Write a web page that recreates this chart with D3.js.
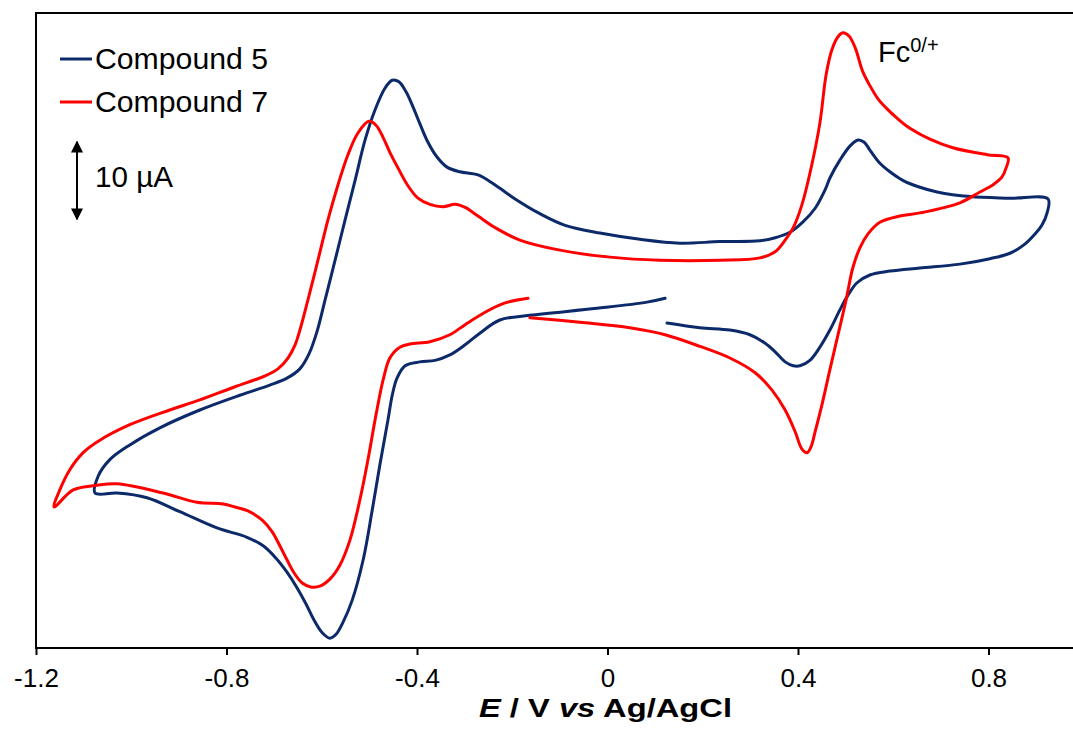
<!DOCTYPE html>
<html><head><meta charset="utf-8">
<script src="https://cdn.jsdelivr.net/npm/d3@7"></script>
<style>html,body{margin:0;padding:0;background:#fff;}svg{display:block;font-family:"Liberation Sans",Arial,sans-serif;}</style>
</head><body><svg id="c" width="1073" height="731"></svg>
<script>
// ---- data (E in V vs Ag/AgCl, I in µA, scan order) ----
const seriesNames = ["Compound 5", "Compound 7"];
const seriesColors = ["#0c2a6a", "#ff0000"];
const tickValues = [-1.2, -0.8, -0.4, 0, 0.4, 0.8];
const tickLabels = ["-1.2", "-0.8", "-0.4", "0", "0.4", "0.8"];

const E5 = [0.121,0.083,-0.022,-0.163,-0.226,-0.268,-0.299,-0.331,-0.362,-0.394,-0.425,-0.442,-0.452,-0.461,-0.478,-0.494,-0.513,-0.536,-0.555,-0.570,
  -0.583,-0.599,-0.616,-0.633,-0.652,-0.673,-0.696,-0.723,-0.757,-0.820,-0.898,-0.967,-1.030,-1.076,-1.070,-1.045,-1.003,-0.940,-0.856,-0.772,
  -0.709,-0.673,-0.646,-0.627,-0.610,-0.593,-0.572,-0.551,-0.530,-0.509,-0.488,-0.467,-0.452,-0.438,-0.423,-0.408,-0.394,-0.377,-0.358,-0.337,
  -0.310,-0.272,-0.236,-0.194,-0.142,-0.089,-0.016,0.068,0.152,0.236,0.320,0.352,0.383,0.410,0.436,0.457,0.467,
  0.488,0.509,0.526,0.539,0.551,0.572,0.593,0.620,0.656,0.692,0.761,0.845,0.925,0.923,0.912,0.898,0.877,0.845,0.803,0.740,
  0.656,0.593,0.551,0.524,0.505,0.488,0.467,0.446,0.425,0.404,0.390,0.373,0.352,0.331,0.299,0.257,0.194,0.125];
const I5 = [2.8,2.3,1.5,0.6,0.0,-1.7,-3.2,-4.5,-5.2,-5.4,-5.9,-7.5,-9.7,-12.9,-18.7,-24.5,-30.9,-36.1,-38.9,-40.5,
  -41.0,-40.3,-38.7,-36.6,-34.5,-32.5,-30.7,-29.1,-28.0,-26.8,-24.7,-22.9,-22.3,-22.3,-20.2,-18.0,-16.1,-13.9,-11.6,-9.7,
  -8.4,-7.5,-6.3,-4.4,-1.5,2.6,7.7,12.9,18.0,23.2,27.1,29.9,30.9,30.7,29.4,27.4,25.3,22.9,21.0,19.7,
  19.1,18.7,17.4,15.6,13.7,12.2,11.2,10.4,9.9,10.1,10.2,10.6,11.3,12.6,14.4,16.8,18.3,
  20.6,22.4,23.2,22.9,21.9,20.2,19.1,18.0,17.1,16.5,15.9,15.7,15.6,13.8,12.2,11.1,9.8,8.6,7.9,7.2,
  6.7,6.3,5.8,4.8,3.2,1.3,-1.3,-3.5,-5.2,-5.9,-5.9,-5.4,-4.1,-3.0,-1.9,-1.3,-1.0,-0.4];

const E7 = [-0.167,-0.215,-0.257,-0.299,-0.331,-0.373,-0.415,-0.436,-0.457,-0.471,-0.486,-0.503,-0.520,-0.541,-0.562,-0.583,-0.604,-0.623,-0.641,-0.658,
  -0.673,-0.688,-0.704,-0.725,-0.755,-0.782,-0.807,-0.862,-0.933,-1.030,-1.072,-1.122,-1.162,-1.150,-1.129,-1.101,-1.066,-1.003,-0.919,-0.856,
  -0.782,-0.719,-0.692,-0.671,-0.656,-0.644,-0.629,-0.608,-0.587,-0.566,-0.545,-0.524,-0.501,-0.486,-0.471,-0.457,-0.440,-0.419,-0.398,-0.373,
  -0.345,-0.320,-0.299,-0.272,-0.236,-0.184,-0.100,0.005,0.110,0.236,0.320,0.352,0.373,0.390,0.408,0.429,0.446,0.459,0.471,0.484,
  0.494,0.507,0.520,0.536,0.551,0.568,0.587,0.608,0.635,0.677,0.725,0.797,0.841,0.837,0.828,0.809,0.782,0.740,0.656,0.614,0.572,0.547,
  0.530,0.515,0.501,0.484,0.467,0.450,0.436,0.427,0.419,0.408,0.394,0.373,0.345,0.310,0.257,0.194,0.121,0.047,-0.058,-0.163];
const I7 = [2.8,2.2,1.0,-0.6,-1.9,-2.8,-3.1,-3.5,-4.9,-7.7,-12.2,-18.0,-23.2,-28.4,-31.6,-33.4,-34.3,-34.4,-33.9,-32.6,
  -30.9,-29.1,-27.3,-25.8,-24.6,-24.1,-23.7,-23.5,-22.3,-21.1,-21.3,-21.9,-24.1,-21.9,-19.3,-17.1,-15.5,-13.5,-11.6,-10.3,
  -8.6,-7.2,-6.3,-4.9,-3.2,-0.9,2.6,7.7,12.9,17.4,21.3,24.1,25.6,25.1,23.5,21.6,19.6,17.3,15.7,14.9,
  14.6,14.9,14.5,13.4,11.9,10.3,9.0,8.1,7.7,7.7,8.0,8.8,10.3,11.9,14.8,20.0,25.4,31.6,34.8,36.5,
  37.0,36.6,35.1,32.0,30.2,28.5,27.2,26.0,24.7,23.3,22.2,21.3,20.9,19.6,18.4,17.4,16.5,15.1,13.8,13.4,12.6,11.1,
  9.3,6.7,2.6,-1.9,-6.4,-11.0,-14.4,-16.4,-17.1,-16.6,-14.4,-11.6,-9.0,-6.8,-4.9,-3.4,-1.9,-1.0,-0.3,0.3];

const seriesE = [E5, E7];
const seriesI = [I5, I7];
const scaleBarValue = 10; // µA

// ---- drawing ----
const svg = d3.select("#c");
const x = d3.scaleLinear().domain([-1.2, 1.0]).range([36, 1083.75]);
const y = d3.scaleLinear().domain([-42.27, 39.56]).range([648, 13]);

// plot frame (right edge falls outside the picture)
svg.append("rect").attr("x", 36).attr("y", 13).attr("width", 1083.75 - 36).attr("height", 648 - 13)
  .attr("fill", "none").attr("stroke", "#000").attr("stroke-width", 2);

// curves
const line = d3.line().x(d => x(d[0])).y(d => y(d[1])).curve(d3.curveCatmullRom.alpha(0.5));
seriesE.forEach((E, k) => {
  const pts = E.map((e, i) => [e, seriesI[k][i]]);
  svg.append("path").attr("d", line(pts)).attr("fill", "none")
    .attr("stroke", seriesColors[k]).attr("stroke-width", 3).attr("stroke-linejoin", "round").attr("stroke-linecap", "round");
});

// x axis
const ax = svg.append("g").attr("transform", "translate(0,648)")
  .call(d3.axisBottom(x).tickValues(tickValues).tickSize(7).tickSizeOuter(0)
    .tickFormat((d, i) => tickLabels[i]));
ax.select(".domain").remove();
ax.selectAll(".tick line").attr("stroke", "#000").attr("stroke-width", 2);
ax.selectAll(".tick text").attr("font-size", 26).attr("fill", "#000").attr("font-family", "Liberation Sans, Arial, sans-serif")
  .attr("dy", null).attr("y", 39);

// axis title
const t = svg.append("text").attr("x", 605.5).attr("y", 717).attr("text-anchor", "middle")
  .attr("font-size", 26).attr("font-weight", "bold").attr("fill", "#000")
  .attr("textLength", 253).attr("lengthAdjust", "spacingAndGlyphs");
t.append("tspan").attr("font-style", "italic").text("E");
t.append("tspan").text(" / V ");
t.append("tspan").attr("font-style", "italic").text("vs");
t.append("tspan").text(" Ag/AgCl");

// legend
seriesNames.forEach((n, k) => {
  const ly = [59, 102][k];
  svg.append("line").attr("x1", 60).attr("x2", 92).attr("y1", ly).attr("y2", ly)
    .attr("stroke", seriesColors[k]).attr("stroke-width", 3);
  svg.append("text").attr("x", 95).attr("y", ly + 9.5).attr("font-size", 29).attr("fill", "#000")
    .attr("textLength", 173).attr("lengthAdjust", "spacingAndGlyphs").text(n);
});

// scale bar (10 µA)
const defs = svg.append("defs");
defs.append("marker").attr("id", "ah").attr("viewBox", "0 0 10 10").attr("refX", 9).attr("refY", 5)
  .attr("markerWidth", 6).attr("markerHeight", 6).attr("orient", "auto-start-reverse")
  .append("path").attr("d", "M0,0 L10,5 L0,10 z").attr("fill", "#000");
const barMid = (142 + 219) / 2;
const barLen = y(0) - y(scaleBarValue);
svg.append("line").attr("x1", 77).attr("x2", 77).attr("y1", barMid - barLen / 2).attr("y2", barMid + barLen / 2)
  .attr("stroke", "#000").attr("stroke-width", 2)
  .attr("marker-start", "url(#ah)").attr("marker-end", "url(#ah)");
svg.append("text").attr("x", 95).attr("y", 187).attr("font-size", 29).attr("fill", "#000")
  .attr("textLength", 78).attr("lengthAdjust", "spacingAndGlyphs").text(scaleBarValue + " µA");

// Fc label
const fc = svg.append("text").attr("x", 878).attr("y", 62).attr("font-size", 29).attr("fill", "#000");
fc.append("tspan").text("Fc");
fc.append("tspan").attr("font-size", 20).attr("dy", -10).text("0/+");
</script></body></html>
